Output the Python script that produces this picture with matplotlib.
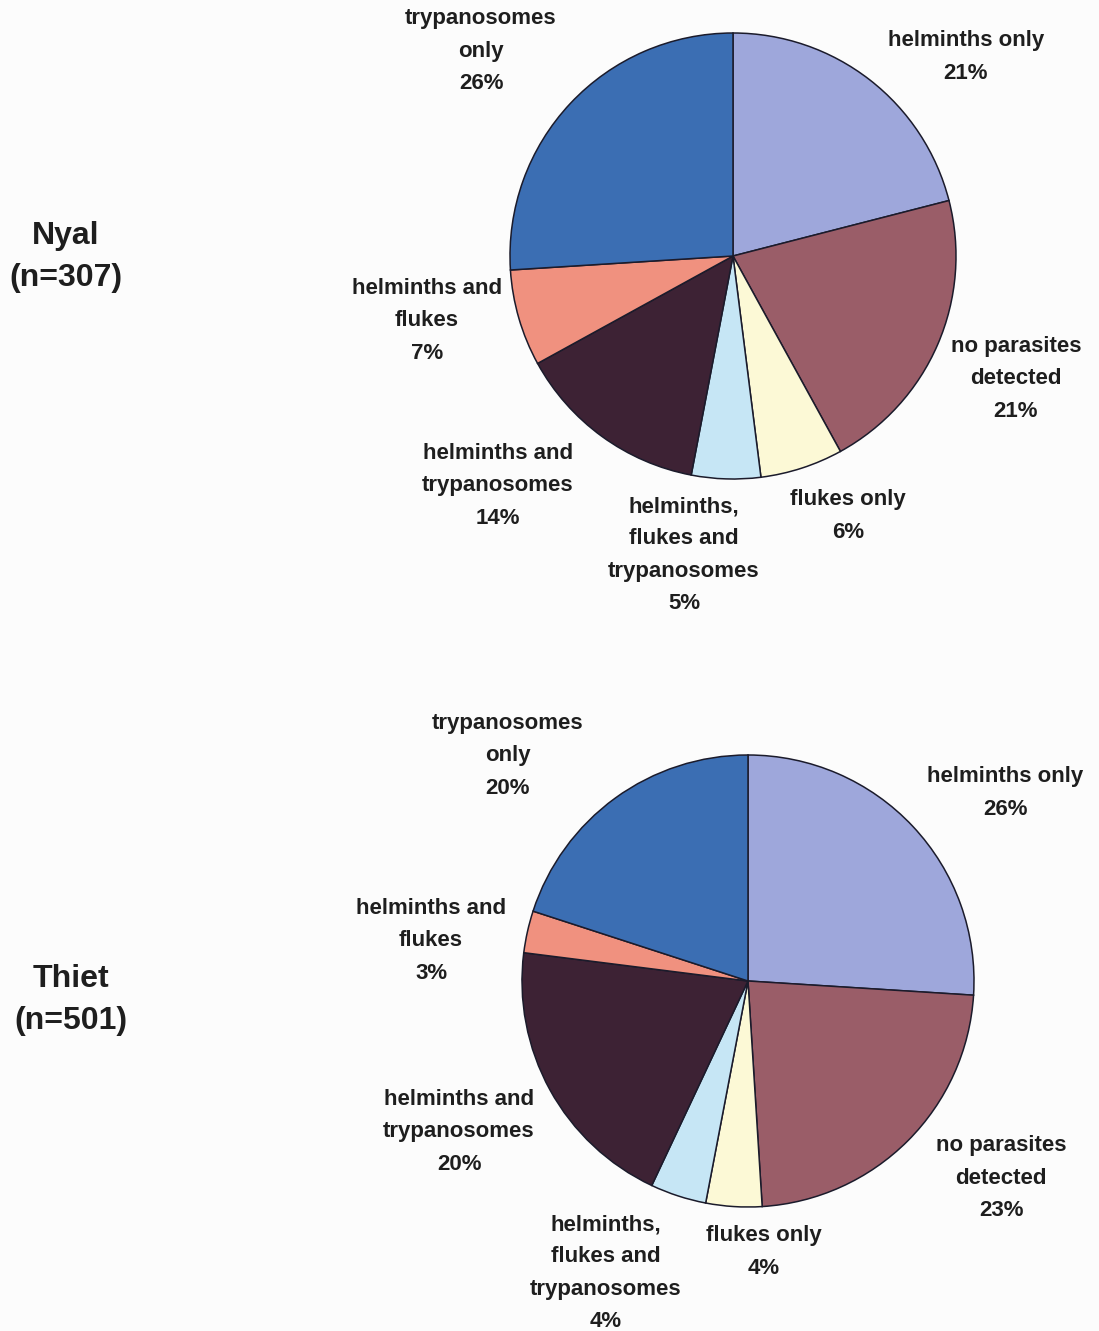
import matplotlib as mpl
mpl.use('Agg')
import matplotlib.pyplot as plt

# Parasite status of sampled cattle, percent of animals per village
categories = ['helminths only', 'no parasites\ndetected', 'flukes only',
              'helminths,\nflukes and\ntrypanosomes', 'helminths and\ntrypanosomes',
              'helminths and\nflukes', 'trypanosomes\nonly']
nyal_pct = [21, 21, 6, 5, 14, 7, 26]
thiet_pct = [26, 23, 4, 4, 20, 3, 20]
sites = ['Nyal', 'Thiet']
sample_sizes = [307, 501]

colors = ['#9ea7db', '#9a5d68', '#fcf9d6', '#c6e6f5', '#3d2234', '#f0917f', '#3b6eb3']

W, H = 1099, 1331
fig = plt.figure(figsize=(W / 100, H / 100), dpi=100, facecolor='#fcfcfc')
ax = fig.add_axes([0, 0, 1, 1])
ax.set_facecolor('#fcfcfc')

# pie centre / radius and label anchors in pixel space (x, y from top)
layout = {
    'Nyal': dict(center=(733, 256), radius=223, title=(66, 257),
                 labels=[(966, 57), (1016, 379), (848, 516), (684, 555),
                         (498, 486), (427, 321), (481, 51)]),
    'Thiet': dict(center=(748, 981), radius=226, title=(71, 1000),
                  labels=[(1005, 793), (1001, 1178), (764, 1252), (606, 1273),
                          (459, 1132), (431, 941), (508, 756)]),
}

ink = '#1e1e1e'
for site, n, pct in zip(sites, sample_sizes, [nyal_pct, thiet_pct]):
    lay = layout[site]
    cx, cy = lay['center']
    ax.pie(pct, colors=colors, startangle=90, counterclock=False,
           center=(cx, H - cy), radius=lay['radius'],
           wedgeprops=dict(edgecolor='#1b1b2b', linewidth=1.1))
    for cat, p, (lx, ly) in zip(categories, pct, lay['labels']):
        ax.text(lx, H - ly, f'{cat}\n{p}%', ha='center', va='center',
                fontsize=16, fontweight='bold', family='Liberation Sans',
                color=ink, linespacing=1.7)
    tx, ty = lay['title']
    ax.text(tx, H - ty, f'{site}\n(n={n})', ha='center', va='center',
            fontsize=23, fontweight='bold', family='Liberation Sans',
            color=ink, linespacing=1.55)

ax.set_xlim(0, W)
ax.set_ylim(0, H)
ax.set_aspect('equal')
ax.axis('off')

fig.savefig('out.png', dpi=100, facecolor=fig.get_facecolor())
